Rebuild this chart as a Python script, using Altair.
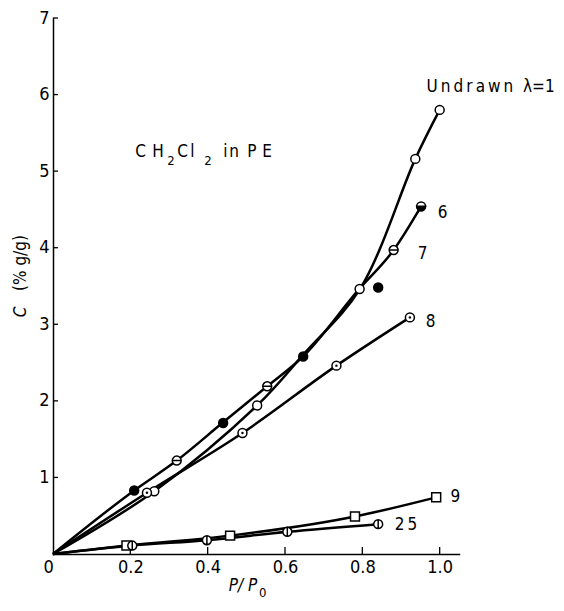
import altair as alt
import pandas as pd

# ---- curve vertices ----
curve1_x = [0.0, 0.262, 0.528, 0.65, 0.795, 0.937, 1.0]
curve1_y = [0.0, 0.82, 1.94, 2.62, 3.47, 5.16, 5.80]
curve6_x = [0.0, 0.21, 0.32, 0.44, 0.554, 0.647, 0.79, 0.881, 0.952]
curve6_y = [0.0, 0.83, 1.22, 1.72, 2.19, 2.58, 3.45, 3.97, 4.54]
curve8_x = [0.0, 0.243, 0.49, 0.733, 0.923]
curve8_y = [0.0, 0.80, 1.58, 2.46, 3.09]
curve9_x = [0.0, 0.19, 0.458, 0.781, 0.991]
curve9_y = [0.0, 0.11, 0.24, 0.49, 0.74]
curve25_x = [0.0, 0.205, 0.398, 0.606, 0.841]
curve25_y = [0.0, 0.11, 0.18, 0.29, 0.39]

# ---- markers ----
open_x = [0.262, 0.528, 0.793, 0.937, 1.0]
open_y = [0.82, 1.94, 3.46, 5.16, 5.80]
filled_x = [0.21, 0.44, 0.647, 0.841]
filled_y = [0.83, 1.71, 2.58, 3.48]
hbar_x = [0.32, 0.554, 0.881]
hbar_y = [1.22, 2.19, 3.97]
half_x = [0.952]
half_y = [4.54]
dot_x = [0.243, 0.49, 0.733, 0.923]
dot_y = [0.80, 1.58, 2.46, 3.09]
square_x = [0.19, 0.458, 0.781, 0.991]
square_y = [0.11, 0.24, 0.49, 0.74]
vbar_x = [0.205, 0.398, 0.606, 0.841]
vbar_y = [0.11, 0.18, 0.29, 0.39]

# ---- labels ----
TS = "\u2009"
NB = "\u00a0"
lab_text = [TS.join("Undrawn") + NB + NB + "\u03bb=1", "6", "7", "8", "9", "2" + TS + "5"]
lab_x = [0.966, 0.995, 0.943, 0.964, 1.028, 0.884]
lab_y = [6.10, 4.45, 3.92, 3.03, 0.75, 0.38]

# "CH2Cl2 in PE" drawn character by character: text, x-offset (px), y-offset (px), size
title_chars = ["C", "H", "2", "C", "l", "2", "i", "n", "P", "E"]
title_dx = [1, 18, 33, 43, 56, 70, 89, 95, 113, 128]
title_dy = [0, 0, 9, 0, 0, 9, 0, 0, 0, 0]
title_fs = [17, 17, 13, 17, 17, 13, 17, 17, 17, 17]
title_anchor_x, title_anchor_y = 0.21, 5.25

x_ticks = [0.0, 0.2, 0.4, 0.6, 0.8, 1.0]
y_ticks = [1, 2, 3, 4, 5, 6, 7]

W, H = 406, 536
FONT = "DejaVu Sans Condensed"

def long_df(items):
    rows = []
    for name, xs_, ys_ in items:
        for i, (a, b) in enumerate(zip(xs_, ys_)):
            rows.append({"s": name, "i": i, "x": a, "y": b})
    return pd.DataFrame(rows)

lines_df = long_df([("6", curve6_x, curve6_y), ("8", curve8_x, curve8_y),
                    ("9", curve9_x, curve9_y), ("25", curve25_x, curve25_y)])
line1_df = long_df([("1", curve1_x, curve1_y)])

xs = alt.Scale(domain=[0, 1.05], nice=False)
ys = alt.Scale(domain=[0, 7], nice=False)

xax = alt.Axis(values=x_ticks, ticks=False, grid=False, title=None,
               labelExpr="datum.value == 0 ? '0' : format(datum.value, '.1f')",
               labelOffset={"condition": {"test": "datum.value == 0", "value": -10}, "value": 0},
               labelFont=FONT, labelFontSize=18, labelColor="black",
               domainColor="black", domainWidth=1.5, labelPadding=4)
yax = alt.Axis(values=y_ticks, ticks=False, grid=False, title=None, format="d",
               labelFont=FONT, labelFontSize=18, labelColor="black",
               domainColor="black", domainWidth=1.5, labelPadding=4)

base_lines = alt.Chart(lines_df).mark_line(
    color="black", strokeWidth=2.5, interpolate="monotone"
).encode(
    x=alt.X("x:Q", scale=xs, axis=xax),
    y=alt.Y("y:Q", scale=ys, axis=yax),
    detail="s:N",
    order="i:Q",
)
line1 = alt.Chart(line1_df).mark_line(
    color="black", strokeWidth=2.5, interpolate="catmull-rom"
).encode(
    x=alt.X("x:Q", scale=xs), y=alt.Y("y:Q", scale=ys), order="i:Q",
)

def pts(xv, yv):
    return pd.DataFrame({"x": xv, "y": yv})

def enc(ch):
    return ch.encode(x=alt.X("x:Q", scale=xs), y=alt.Y("y:Q", scale=ys))

CIRC = "M-1,0A1,1,0,1,1,1,0A1,1,0,1,1,-1,0Z"
SZ = 80
mk = dict(stroke="black", strokeWidth=1.5, size=SZ, opacity=1)

open_l = enc(alt.Chart(pts(open_x, open_y)).mark_point(shape="circle", filled=True, fill="white", **mk))
filled_l = enc(alt.Chart(pts(filled_x, filled_y)).mark_point(shape="circle", filled=True, fill="black", **mk))
hbar_l = enc(alt.Chart(pts(hbar_x, hbar_y)).mark_point(shape=CIRC + "M-1,0L1,0", filled=True, fill="white", **mk))
half_o = enc(alt.Chart(pts(half_x, half_y)).mark_point(shape="circle", filled=True, fill="white", **mk))
half_f = enc(alt.Chart(pts(half_x, half_y)).mark_point(shape="M-1,0A1,1,0,0,0,1,0Z", filled=True, fill="black", **mk))
dot_o = enc(alt.Chart(pts(dot_x, dot_y)).mark_point(shape="circle", filled=True, fill="white", **mk))
dot_f = enc(alt.Chart(pts(dot_x, dot_y)).mark_point(shape="circle", filled=True, fill="black", size=6, opacity=1))
sq_l = enc(alt.Chart(pts(square_x, square_y)).mark_point(shape="square", filled=True, fill="white", **mk))
vbar_l = enc(alt.Chart(pts(vbar_x, vbar_y)).mark_point(shape=CIRC + "M0,-1L0,1", filled=True, fill="white", **mk))

lab_df = pd.DataFrame({"t": lab_text, "x": lab_x, "y": lab_y})
labels = alt.Chart(lab_df).mark_text(
    align="left", baseline="middle", font=FONT, fontSize=17, color="black"
).encode(x=alt.X("x:Q", scale=xs), y=alt.Y("y:Q", scale=ys), text="t:N")

title_layers = []
for t, dx, dy, fs in zip(title_chars, title_dx, title_dy, title_fs):
    title_layers.append(
        alt.Chart(pd.DataFrame({"t": [t], "x": [title_anchor_x], "y": [title_anchor_y]})).mark_text(
            align="left", baseline="middle", font=FONT, fontSize=fs, color="black", dx=dx, dy=dy
        ).encode(x=alt.X("x:Q", scale=xs), y=alt.Y("y:Q", scale=ys), text="t:N")
    )

# inward ticks
xt = alt.Chart(pd.DataFrame({"v": x_ticks[1:]})).mark_rule(color="black", strokeWidth=1.3).encode(
    x=alt.X("v:Q", scale=xs), y=alt.value(H), y2=alt.value(H - 7))
yt = alt.Chart(pd.DataFrame({"v": y_ticks})).mark_rule(color="black", strokeWidth=1.3).encode(
    y=alt.Y("v:Q", scale=ys), x=alt.value(0), x2=alt.value(5))

# axis titles
yt1 = alt.Chart(pd.DataFrame({"t": ["C"]})).mark_text(
    angle=270, font=FONT, fontSize=17, fontStyle="italic", color="black", baseline="middle", align="center"
).encode(text="t:N", x=alt.value(-32), y=alt.value(294))
yt2 = alt.Chart(pd.DataFrame({"t": ["(%" + NB + "g/g)"]})).mark_text(
    angle=270, font=FONT, fontSize=17, color="black", baseline="middle", align="center"
).encode(text="t:N", x=alt.value(-32), y=alt.value(245))
xt1 = alt.Chart(pd.DataFrame({"t": ["P/" + NB + "P"]})).mark_text(
    font=FONT, fontSize=17, fontStyle="italic", color="black", baseline="middle", align="center"
).encode(text="t:N", x=alt.value(190), y=alt.value(568))
xt2 = alt.Chart(pd.DataFrame({"t": ["0"]})).mark_text(
    font=FONT, fontSize=13, color="black", baseline="middle", align="left"
).encode(text="t:N", x=alt.value(206), y=alt.value(575))

chart = alt.layer(
    base_lines, line1, xt, yt,
    open_l, filled_l, hbar_l, half_o, half_f, dot_o, dot_f, sq_l, vbar_l,
    labels, *title_layers, yt1, yt2, xt1, xt2,
).properties(
    width=W, height=H,
    autosize=alt.AutoSizeParams(type="none"),
    padding={"left": 45, "top": 10, "right": 96, "bottom": 48},
).configure_view(stroke=None).configure_axis(domainCap="square")

chart.save("out.html", embed_options={"renderer": "svg", "actions": False})
